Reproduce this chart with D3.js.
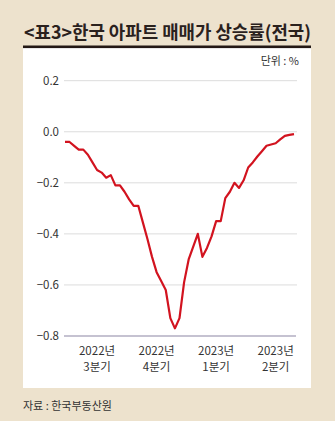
<!DOCTYPE html>
<html>
<head>
<meta charset="utf-8">
<script src="https://cdn.jsdelivr.net/npm/d3@7"></script>
<style>
  html, body { margin: 0; padding: 0; background: #ede2cd; }
  svg { display: block; }
  text { font-family: "Noto Sans CJK KR", "Noto Sans", sans-serif; }
</style>
</head>
<body>
<div id="chart"></div>
<script>
// 주간 아파트 매매가 상승률 (2022년 7월 ~ 2023년 6월), 단위 %
var weeks = d3.range(0, 51);
var values = [
  -0.04, -0.04, -0.055, -0.07, -0.07, -0.09, -0.12, -0.15, -0.16, -0.18,
  -0.17, -0.21, -0.21, -0.235, -0.265, -0.29, -0.29, -0.355, -0.42, -0.49,
  -0.55, -0.585, -0.62, -0.73, -0.77, -0.73, -0.59, -0.50, -0.45, -0.40,
  -0.49, -0.455, -0.41, -0.35, -0.35, -0.26, -0.235, -0.20, -0.22, -0.19,
  -0.14, -0.12, -0.097, -0.076, -0.055, -0.05, -0.045, -0.03, -0.016, -0.012,
  -0.009
];
var yTicks = [0.2, 0.0, -0.2, -0.4, -0.6, -0.8];
var quarterPos = [7, 20, 33, 46];
var quarterYear = ["2022년", "2022년", "2023년", "2023년"];
var quarterName = ["3분기", "4분기", "1분기", "2분기"];

var width = 335, height = 421;
var svg = d3.select("#chart").append("svg")
    .attr("width", width)
    .attr("height", height);

// 배경
svg.append("rect").attr("width", width).attr("height", height).attr("fill", "#ede2cd");

// 제목
svg.append("text")
    .attr("x", 24).attr("y", 39)
    .attr("textLength", 287)
    .attr("lengthAdjust", "spacingAndGlyphs")
    .style("font-size", "18px")
    .style("font-weight", "bold")
    .attr("fill", "#2a211d")
    .text("<표3>한국 아파트 매매가 상승률(전국)");

// 흰 패널
svg.append("rect")
    .attr("x", 23).attr("y", 47)
    .attr("width", 288).attr("height", 341)
    .attr("fill", "#ffffff");
svg.append("rect")
    .attr("x", 23).attr("y", 45.5)
    .attr("width", 288).attr("height", 2.6)
    .attr("fill", "#231815");

svg.append("text")
    .attr("x", 299).attr("y", 65)
    .attr("text-anchor", "end")
    .style("font-size", "11px")
    .attr("fill", "#333")
    .text("단위 : %");

var x = d3.scaleLinear().domain([0, 50]).range([65, 294]);
var y = d3.scaleLinear().domain([-0.8, 0.2]).range([336, 80.7]);

// 격자선
svg.append("g")
    .selectAll("line")
    .data(yTicks.filter(function (d) { return d > -0.8; }))
    .enter().append("line")
    .attr("x1", 64).attr("x2", 297)
    .attr("y1", function (d) { return y(d); })
    .attr("y2", function (d) { return y(d); })
    .attr("stroke", "#dcdcdc")
    .attr("stroke-width", 1);

// 기준선
svg.append("line")
    .attr("x1", 64).attr("x2", 296)
    .attr("y1", y(-0.8)).attr("y2", y(-0.8))
    .attr("stroke", "#8c86a3")
    .attr("stroke-width", 1.2);

// y축 라벨
svg.append("g")
    .selectAll("text")
    .data(yTicks)
    .enter().append("text")
    .attr("x", 59)
    .attr("y", function (d) { return y(d) + 4; })
    .attr("text-anchor", "end")
    .style("font-size", "11.5px")
    .attr("fill", "#333")
    .text(function (d) { return d3.format(".1f")(d).replace("-", "\u2212"); });

// x축 라벨
var xl = svg.append("g")
    .selectAll("text")
    .data(quarterPos)
    .enter().append("text")
    .attr("text-anchor", "middle")
    .style("font-size", "11.5px")
    .attr("fill", "#333");
xl.append("tspan")
    .attr("x", function (d) { return x(d); })
    .attr("y", 355)
    .text(function (d, i) { return quarterYear[i]; });
xl.append("tspan")
    .attr("x", function (d) { return x(d); })
    .attr("y", 371)
    .text(function (d, i) { return quarterName[i]; });

// 선
var line = d3.line()
    .x(function (d) { return x(d); })
    .y(function (d, i) { return y(values[i]); });
svg.append("path")
    .datum(weeks)
    .attr("d", line)
    .attr("fill", "none")
    .attr("stroke", "#d2131f")
    .attr("stroke-width", 2.2)
    .attr("stroke-linejoin", "round");

// 출처
svg.append("text")
    .attr("x", 23).attr("y", 410)
    .style("font-size", "11px")
    .attr("fill", "#333")
    .text("자료 : 한국부동산원");
</script>
</body>
</html>
